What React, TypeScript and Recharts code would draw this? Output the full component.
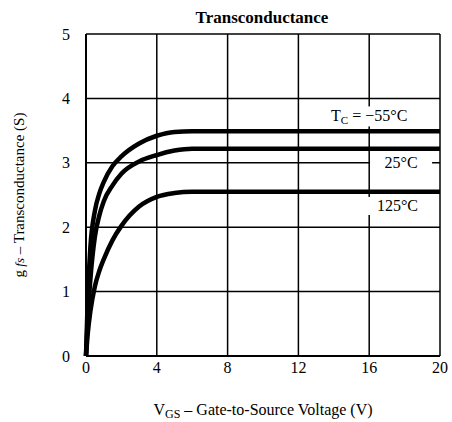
import React from "react";
import {
  LineChart,
  Line,
  XAxis,
  YAxis,
  CartesianGrid,
  ReferenceDot,
} from "recharts";

// V_GS sample points (V)
const VGS = [0, 0.1, 0.25, 0.5, 0.75, 1, 1.5, 2, 3, 4, 5, 6, 8, 12, 16, 20];
// gfs (S) per case temperature
const GFS_M55 = [0, 0.9, 1.7, 2.25, 2.52, 2.7, 2.95, 3.1, 3.3, 3.42, 3.48, 3.49, 3.49, 3.49, 3.49, 3.49];
const GFS_25 = [0, 0.6, 1.2, 1.85, 2.18, 2.4, 2.65, 2.83, 3.02, 3.12, 3.19, 3.22, 3.22, 3.22, 3.22, 3.22];
const GFS_125 = [0, 0.35, 0.7, 1.08, 1.32, 1.5, 1.8, 2.02, 2.32, 2.47, 2.53, 2.55, 2.55, 2.55, 2.55, 2.55];

const X_TICKS = [0, 4, 8, 12, 16, 20];
const Y_TICKS = [0, 1, 2, 3, 4, 5];

const data = VGS.map((v, i) => ({
  vgs: v,
  m55: GFS_M55[i],
  t25: GFS_25[i],
  t125: GFS_125[i],
}));

const FONT = "'Liberation Serif', 'Times New Roman', serif";

// white box behind a curve label, breaks the grid like the datasheet does
function boxLabel(w: number, h: number, content: React.ReactNode) {
  return (props: any) => {
    const { cx, cy } = props;
    return (
      <g>
        <rect x={cx - w / 2} y={cy - h / 2} width={w} height={h} fill="#fff" />
        <text
          x={cx}
          y={cy + 5}
          textAnchor="middle"
          fontFamily={FONT}
          fontSize={16}
          fill="#000"
        >
          {content}
        </text>
      </g>
    );
  };
}

export default function App() {
  return (
    <div style={{ position: "absolute", left: 0, top: 0, background: "#fff" }}>
      <LineChart
        width={452}
        height={422}
        data={data}
        margin={{ top: 34, right: 12, left: 0, bottom: 0 }}
      >
        <text
          x={262}
          y={23}
          textAnchor="middle"
          fontFamily={FONT}
          fontWeight="bold"
          fontSize={17}
          fill="#000"
        >
          Transconductance
        </text>
        <CartesianGrid stroke="#000" strokeWidth={1.5} />
        <XAxis
          dataKey="vgs"
          type="number"
          domain={[0, 20]}
          ticks={X_TICKS}
          height={66}
          tickSize={0}
          tickMargin={6}
          axisLine={{ stroke: "#000", strokeWidth: 2 }}
          tick={{ fill: "#000", fontSize: 16, fontFamily: FONT }}
          label={(p: any) => {
            const vb = p.viewBox;
            return (
              <text
                x={vb.x + vb.width / 2}
                y={415}
                textAnchor="middle"
                fontFamily={FONT}
                fontSize={16}
                fill="#000"
              >
                <tspan>V</tspan>
                <tspan dy={3} fontSize={12}>GS</tspan>
                <tspan dy={-3}> – Gate-to-Source Voltage (V)</tspan>
              </text>
            );
          }}
        />
        <YAxis
          domain={[0, 5]}
          ticks={Y_TICKS}
          width={86}
          tickSize={0}
          tickMargin={16}
          axisLine={{ stroke: "#000", strokeWidth: 2 }}
          tick={{ fill: "#000", fontSize: 16, fontFamily: FONT }}
          label={(p: any) => {
            const vb = p.viewBox;
            const cy = vb.y + vb.height / 2;
            return (
              <text
                x={24}
                y={cy}
                transform={`rotate(-90, 24, ${cy})`}
                textAnchor="middle"
                fontFamily={FONT}
                fontSize={15}
                fill="#000"
              >
                <tspan>g</tspan>
                <tspan fontStyle="italic" fontSize={13}> fs</tspan>
                <tspan> – Transconductance (S)</tspan>
              </text>
            );
          }}
        />
        <ReferenceDot
          x={16}
          y={3.72}
          ifOverflow="visible"
          shape={boxLabel(
            88,
            20,
            <>
              <tspan>T</tspan>
              <tspan dy={3} fontSize={11}>C</tspan>
              <tspan dy={-3}> = −55°C</tspan>
            </>
          )}
        />
        <ReferenceDot
          x={17.8}
          y={3.0}
          ifOverflow="visible"
          shape={boxLabel(62, 20, "25°C")}
        />
        <ReferenceDot
          x={17.6}
          y={2.33}
          ifOverflow="visible"
          shape={boxLabel(62, 18, "125°C")}
        />
        <Line
          dataKey="m55"
          type="monotone"
          stroke="#000"
          strokeWidth={4.5}
          dot={false}
          isAnimationActive={false}
        />
        <Line
          dataKey="t25"
          type="monotone"
          stroke="#000"
          strokeWidth={4.5}
          dot={false}
          isAnimationActive={false}
        />
        <Line
          dataKey="t125"
          type="monotone"
          stroke="#000"
          strokeWidth={4.5}
          dot={false}
          isAnimationActive={false}
        />
      </LineChart>
    </div>
  );
}
